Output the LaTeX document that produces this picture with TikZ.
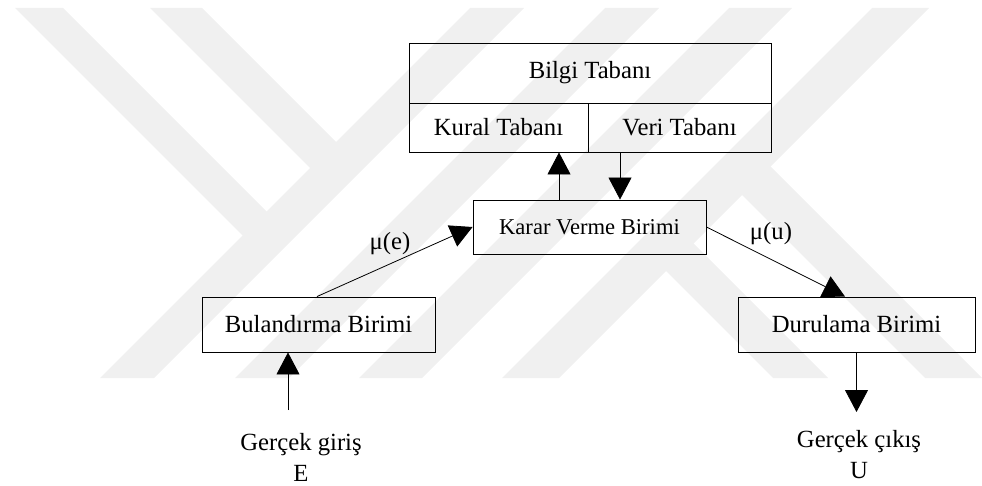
\documentclass[tikz,border=0pt]{standalone}
\usepackage{fontspec}
\setmainfont{Liberation Serif}
\usetikzlibrary{arrows.meta}
\definecolor{emblem}{gray}{0.94}
\begin{document}
\begin{tikzpicture}[x=1pt,y=-1pt,
  lbl/.style={font=\fontsize{24.7}{31}\selectfont},
  unit/.style={draw, line width=0.9pt, inner sep=0pt, lbl},
  arr/.style={line width=0.8pt, -{Triangle[width=23pt,length=22pt]}},
  band/.style={fill=emblem, draw=none}]
\useasboundingbox (0,0) rectangle (982,486);

% faint background emblem of diagonal bands
\begin{scope}
  \clip (0,8) rectangle (982,378);
  % long rising bands
  \fill[band] (470,8) -- (524,8) -- (154,378) -- (100,378) -- cycle;
  \fill[band] (605,8) -- (659,8) -- (289,378) -- (235,378) -- cycle;
  \fill[band] (729,8) -- (792,8) -- (422,378) -- (359,378) -- cycle;
  \fill[band] (872,8) -- (929,8) -- (559,378) -- (502,378) -- cycle;
  % falling bands on the left, ending at the first rising band
  \fill[band] (15,8) -- (63,8) -- (273.5,218.5) -- (249.5,242.5) -- cycle;
  \fill[band] (150,8) -- (202,8) -- (343,149) -- (317,175) -- cycle;
  % falling bands on the right, starting at the last rising band
  \fill[band] (657.5,262.5) -- (685,235) -- (828,378) -- (773,378) -- cycle;
  \fill[band] (733.5,186.5) -- (762,158) -- (982,378) -- (925,378) -- cycle;
\end{scope}

% knowledge base
\node[unit, minimum width=362pt, minimum height=60pt] (bilgi) at (590,73) {Bilgi Tabanı};
\node[unit, minimum width=179pt, minimum height=49pt] (kural) at (498.5,127.5) {Kural Tabanı};
\node[unit, minimum width=183pt, minimum height=49pt] (veri) at (679.5,127.5) {Veri Tabanı};

% processing units
\node[unit, minimum width=233pt, minimum height=54pt, font=\fontsize{22.6}{28}\selectfont] (karar) at (589.5,227) {Karar Verme Birimi};
\node[unit, minimum width=233pt, minimum height=55pt] (bulan) at (318.5,324.5) {Bulandırma Birimi};
\node[unit, minimum width=237pt, minimum height=55pt] (durul) at (856.5,324.5) {Durulama Birimi};

% inputs and outputs (base anchor sits on the last line)
\node[lbl, align=center, anchor=base] (giris) at (301,481) {Gerçek giriş\\E};
\node[lbl, align=center, anchor=base] (cikis) at (859,478) {Gerçek çıkış\\U};
\coordinate (inbeg) at (288,410);
\coordinate (outend) at (856.5,412);

% connectors
\draw[arr] ([xshift=-30.5pt]karar.north) -- ([xshift=-30.5pt]karar.north |- kural.south);
\draw[arr] ([xshift=-59.5pt]veri.south) -- ([xshift=-59.5pt]veri.south |- karar.north);
\draw[arr] ([xshift=-1.5pt]bulan.north) -- (karar.west);
\draw[arr] (karar.east) -- ([xshift=-11.5pt]durul.north);
\draw[arr] (durul.south) -- (outend);
\draw[arr] (inbeg) -- (inbeg |- bulan.south);

% membership labels
\node[lbl] (mue) at (390,244) {μ(e)};
\node[lbl] (muu) at (771,234) {μ(u)};
\end{tikzpicture}
\end{document}
